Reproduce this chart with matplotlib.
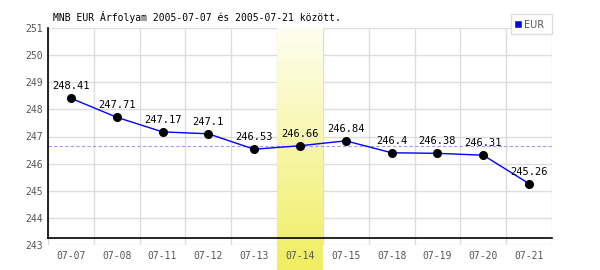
import matplotlib
matplotlib.use("Agg")
import matplotlib.pyplot as plt
import numpy as np
from matplotlib.patches import Rectangle

# chart data
dates = ['07-07', '07-08', '07-11', '07-12', '07-13', '07-14',
         '07-15', '07-18', '07-19', '07-20', '07-21']
eur_rates = [248.41, 247.71, 247.17, 247.1, 246.53, 246.66,
             246.84, 246.4, 246.38, 246.31, 245.26]
average_rate = 246.66
highlight_date = '07-14'
y_ticks = [243, 244, 245, 246, 247, 248, 249, 250, 251]
title = 'MNB EUR Árfolyam 2005-07-07 és 2005-07-21 között.'

mono = 'DejaVu Sans Mono'
grid_col = '#dddddd'
tick_col = '#555555'

fig = plt.figure(figsize=(6, 2.7), dpi=100)
W, H = 600, 270
ax = fig.add_axes([48 / W, 1 - 245 / H, 504 / W, 217 / H])

x = np.arange(len(dates))
ymin, ymax = y_ticks[0], y_ticks[-1]
px_per_unit = 217 / (ymax - ymin)
fig_bottom_val = ymin - 25 / px_per_unit

# highlighted day: vertical yellow gradient down to the figure bottom
hi = dates.index(highlight_date)
grad = np.linspace(0, 1, 256).reshape(-1, 1)
top_c = np.array([254, 254, 240]) / 255
bot_c = np.array([240, 238, 96]) / 255
img = top_c + (bot_c - top_c) * grad[:, :, None] * np.ones((1, 1, 3))
ax.imshow(img, extent=[hi - 0.5, hi + 0.5, fig_bottom_val, ymax],
          aspect='auto', origin='upper', zorder=1, clip_on=False)

# grid
for xv in np.arange(len(dates) + 1) - 0.5:
    ax.plot([xv, xv], [ymin, ymax], color=grid_col, lw=1, zorder=0.5)
for yv in y_ticks:
    ax.plot([-0.5, len(dates) - 0.5], [yv, yv], color=grid_col, lw=1, zorder=0.5)

ax.axhline(average_rate, color='#9999ff', lw=0.8, ls=(0, (3, 2)), zorder=2)
ax.plot(x, eur_rates, color='blue', lw=1, zorder=3)
ax.plot(x, eur_rates, 'o', color='black', ms=5.5, zorder=4)

for xi, v in zip(x, eur_rates):
    ax.annotate(f'{v:g}', (xi, v), xytext=(0, 5), textcoords='offset points',
                ha='center', va='bottom', fontsize=7.5, family=mono,
                color='black', zorder=5)

ax.set_xlim(-0.5, len(dates) - 0.5)
ax.set_ylim(ymin, ymax)
for s in ax.spines.values():
    s.set_visible(False)
# black axis lines (bottom one sits slightly above 243, like the original)
axis_y = (245 - 238) / 217
ax.plot([0, 0], [axis_y, 1], color='black', lw=1.2, transform=ax.transAxes,
        zorder=6, clip_on=False)
ax.plot([0, 1], [axis_y, axis_y], color='black', lw=1.2, transform=ax.transAxes,
        zorder=6, clip_on=False)

ax.set_xticks(x)
ax.set_xticklabels(dates)
ax.set_yticks(y_ticks)
ax.tick_params(length=0, labelsize=7, labelcolor=tick_col, pad=4)
for lab in ax.get_xticklabels() + ax.get_yticklabels():
    lab.set_family(mono)

fig.text(53 / W, 1 - 17 / H, title, fontsize=7, family=mono,
         ha='left', va='center', color='black')

# legend box
fig.patches.append(Rectangle((511 / W, 1 - 34 / H), 41 / W, 20 / H,
                             transform=fig.transFigure, facecolor='white',
                             edgecolor=grid_col, lw=1))
fig.patches.append(Rectangle((515 / W, 1 - 27 / H), 6 / W, 6 / H,
                             transform=fig.transFigure, facecolor='blue',
                             edgecolor='#333333', lw=0.5))
fig.text(524 / W, 1 - 24.5 / H, 'EUR', fontsize=7, family='DejaVu Sans',
         color=tick_col, ha='left', va='center')

fig.savefig('out.png', dpi=100)
plt.close(fig)
